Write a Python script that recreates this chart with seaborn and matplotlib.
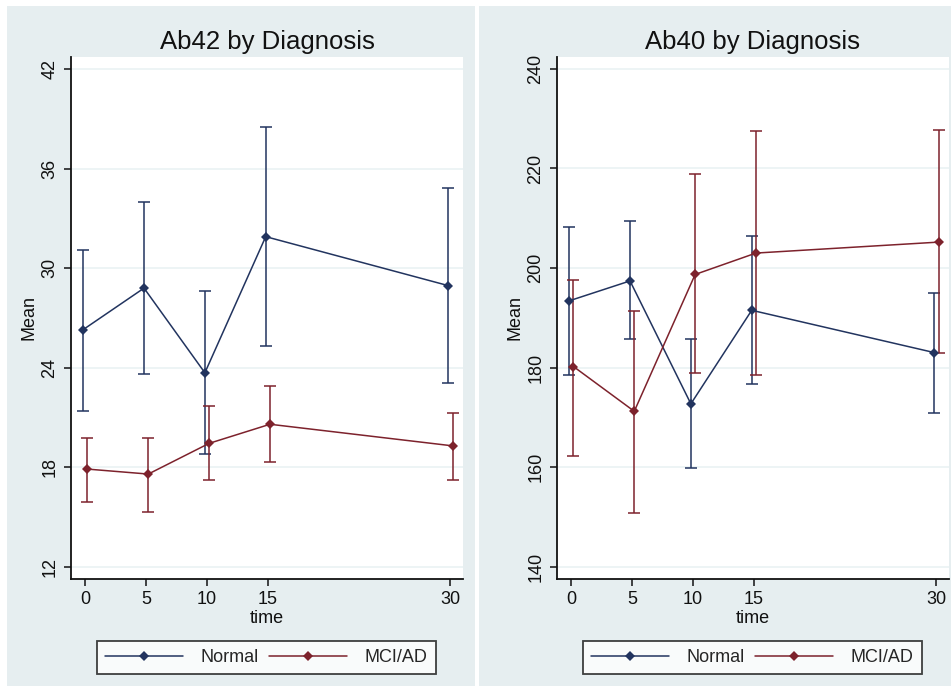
import numpy as np
import pandas as pd
import matplotlib
matplotlib.use("Agg")
import matplotlib.pyplot as plt
from matplotlib.patches import Rectangle
import seaborn as sns

# ---- data ----
times = [0, 5, 10, 15, 30]
groups = ["Normal", "MCI/AD"]

ab42_normal_mean = [26.3, 28.8, 23.7, 31.9, 28.95]
ab42_normal_lo = [21.4, 23.6, 18.8, 25.3, 23.1]
ab42_normal_hi = [31.1, 34.0, 28.6, 38.5, 34.8]
ab42_mci_mean = [17.9, 17.6, 19.45, 20.6, 19.3]
ab42_mci_lo = [15.9, 15.3, 17.25, 18.3, 17.25]
ab42_mci_hi = [19.75, 19.8, 21.7, 22.9, 21.3]

ab40_normal_mean = [193.4, 197.4, 172.7, 191.5, 183.0]
ab40_normal_lo = [178.4, 185.7, 159.9, 176.7, 170.9]
ab40_normal_hi = [208.2, 209.4, 185.7, 206.4, 194.9]
ab40_mci_mean = [180.2, 171.2, 198.7, 203.0, 205.2]
ab40_mci_lo = [162.3, 150.8, 178.8, 178.4, 182.9]
ab40_mci_hi = [197.6, 191.4, 218.8, 227.5, 227.7]

ab42_yticks = [12, 18, 24, 30, 36, 42]
ab40_yticks = [140, 160, 180, 200, 220, 240]

# small horizontal offsets the way the original is drawn
time_offset = {"Normal": -0.15, "MCI/AD": 0.2}

NAVY = "#22345f"
MAROON = "#7d222c"
BG = "#e6eef0"
GRID = "#eaf2f3"

sns.set_theme(style="white")
plt.rcParams["font.family"] = ["Liberation Sans", "DejaVu Sans"]


def make_frame(n_mean, n_lo, n_hi, m_mean, m_lo, m_hi):
    rows = []
    for g, mean, lo, hi in [("Normal", n_mean, n_lo, n_hi),
                            ("MCI/AD", m_mean, m_lo, m_hi)]:
        for t, mu, l, h in zip(times, mean, lo, hi):
            rows.append({"time": t + time_offset[g], "Mean": mu,
                         "lo": l, "hi": h, "group": g})
    return pd.DataFrame(rows)


df42 = make_frame(ab42_normal_mean, ab42_normal_lo, ab42_normal_hi,
                  ab42_mci_mean, ab42_mci_lo, ab42_mci_hi)
df40 = make_frame(ab40_normal_mean, ab40_normal_lo, ab40_normal_hi,
                  ab40_mci_mean, ab40_mci_lo, ab40_mci_hi)

fig = plt.figure(figsize=(9.53, 6.92), dpi=100)
fig.patch.set_facecolor("white")

# panel backgrounds (stata-like graph region)
fig.patches.append(Rectangle((7 / 953, 6 / 692), 468 / 953, 680 / 692,
                             transform=fig.transFigure, facecolor=BG,
                             edgecolor="none", zorder=-10))
fig.patches.append(Rectangle((479 / 953, 6 / 692), 472 / 953, 680 / 692,
                             transform=fig.transFigure, facecolor=BG,
                             edgecolor="none", zorder=-10))

ax1 = fig.add_axes([71 / 953, 113 / 692, 392 / 953, 522 / 692])
ax2 = fig.add_axes([557 / 953, 113 / 692, 392 / 953, 522 / 692])

palette = {"Normal": NAVY, "MCI/AD": MAROON}

for ax, df, title, yticks, ylim in [
        (ax1, df42, "Ab42 by Diagnosis", ab42_yticks, (11.28, 42.72)),
        (ax2, df40, "Ab40 by Diagnosis", ab40_yticks, (137.5, 242.4))]:
    ax.set_facecolor("white")
    for g in groups:
        sub = df[df["group"] == g]
        ax.errorbar(sub["time"], sub["Mean"],
                    yerr=[sub["Mean"] - sub["lo"], sub["hi"] - sub["Mean"]],
                    fmt="none", ecolor=palette[g], elinewidth=1.1,
                    capsize=4, capthick=1.1, zorder=2)
    sns.lineplot(data=df, x="time", y="Mean", hue="group",
                 hue_order=groups, palette=palette, marker="D",
                 markersize=5, markeredgewidth=0, linewidth=1.1,
                 errorbar=None, ax=ax, zorder=3)

    ax.set_xlim(-1.15, 31.06)
    ax.set_ylim(*ylim)
    ax.set_xticks(times)
    ax.set_yticks(yticks)
    ax.set_yticklabels([str(v) for v in yticks], rotation=90, va="center")
    ax.yaxis.grid(True, color=GRID, linewidth=1.2)
    ax.xaxis.grid(False)
    ax.set_axisbelow(True)

    for s in ["top", "right"]:
        ax.spines[s].set_visible(False)
    for s in ["left", "bottom"]:
        ax.spines[s].set_color("#111111")
        ax.spines[s].set_linewidth(1.3)
    ax.tick_params(axis="both", which="major", direction="out", length=5,
                   width=1.1, color="#111111", labelsize=13,
                   labelcolor="#111111", bottom=True, left=True, pad=4)

    ax.set_xlabel("time", fontsize=13, color="#111111", labelpad=1)
    ax.set_ylabel("Mean", fontsize=13, color="#111111", labelpad=3)
    ax.set_title(title, fontsize=18.5, color="#111111", pad=6)

    handles, labels = ax.get_legend_handles_labels()
    leg = ax.legend(handles, labels, loc="center", ncol=2,
                    bbox_to_anchor=(0.043, -0.184, 0.911, 0.067),
                    mode="expand", fontsize=13, frameon=True,
                    fancybox=False, edgecolor="#111111",
                    handlelength=4.3, handletextpad=1.0,
                    columnspacing=2.5, borderpad=0.45)
    leg.get_frame().set_linewidth(1.3)
    leg.get_frame().set_facecolor("white")

fig.savefig("out.png", dpi=100, facecolor="white")
